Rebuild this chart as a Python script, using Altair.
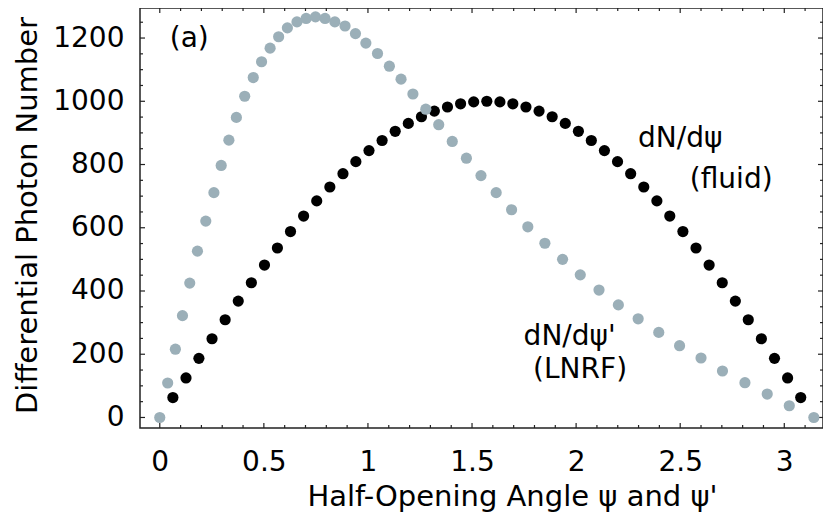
import altair as alt
import pandas as pd

# ---- data ----
fluid_x = [0.063, 0.126, 0.188, 0.251, 0.314, 0.377, 0.440, 0.503, 0.565, 0.628,
           0.691, 0.754, 0.817, 0.880, 0.942, 1.005, 1.068, 1.131, 1.194, 1.257,
           1.319, 1.382, 1.445, 1.508, 1.571, 1.634, 1.696, 1.759, 1.822, 1.885,
           1.948, 2.011, 2.073, 2.136, 2.199, 2.262, 2.325, 2.388, 2.450, 2.513,
           2.576, 2.639, 2.702, 2.765, 2.827, 2.890, 2.953, 3.016, 3.079]
fluid_y = [63, 125, 187, 249, 309, 368, 426, 482, 536, 588,
           637, 685, 729, 771, 809, 844, 876, 905, 930, 951,
           969, 982, 992, 998, 1000, 998, 992, 982, 969, 951,
           930, 905, 876, 844, 809, 771, 729, 685, 637, 588,
           536, 482, 426, 368, 309, 249, 187, 125, 63]

lnrf_x = [0.000, 0.038, 0.075, 0.109, 0.144, 0.181, 0.221, 0.260, 0.295, 0.332,
          0.368, 0.408, 0.449, 0.489, 0.530, 0.571, 0.613, 0.659, 0.703, 0.748,
          0.794, 0.841, 0.890, 0.940, 0.990, 1.046, 1.103, 1.159, 1.216, 1.278,
          1.340, 1.405, 1.473, 1.543, 1.616, 1.690, 1.768, 1.850, 1.935, 2.020,
          2.110, 2.203, 2.298, 2.397, 2.497, 2.600, 2.703, 2.811, 2.918, 3.024,
          3.142]
lnrf_y = [0, 109, 216, 322, 425, 526, 621, 711, 797, 877,
          949, 1016, 1075, 1125, 1168, 1204, 1232, 1251, 1262, 1267,
          1262, 1251, 1238, 1214, 1184, 1151, 1111, 1070, 1023, 975,
          926, 873, 820, 765, 711, 657, 603, 551, 500, 451,
          403, 356, 312, 269, 227, 188, 147, 110, 74, 37,
          0]

x_major = [0, 0.5, 1, 1.5, 2, 2.5, 3]
x_minor = [v / 10 for v in range(0, 32) if v % 5 != 0]
y_major = [0, 200, 400, 600, 800, 1000, 1200]
y_minor = [v for v in range(0, 1300, 50) if v % 200 != 0]

panel_text = ["(a)"]
panel_x = [0.048]
panel_y = [1173]

ann_text = ["dN/dψ", "(fluid)", "dN/dψ'", "(LNRF)"]
ann_x = [2.50, 2.745, 1.969, 2.019]
ann_y = [856, 726, 229, 125]

# ---- layout ----
W, H = 683, 420
FONT = "DejaVu Sans"
FRAME = "#222222"
GRAY = "#9BAFB8"

xscale = alt.Scale(domain=[-0.095, 3.186], nice=False, zero=False)
yscale = alt.Scale(domain=[-33.3, 1295], nice=False, zero=False)

fluid_df = pd.DataFrame({"x": fluid_x, "y": fluid_y})
lnrf_df = pd.DataFrame({"x": lnrf_x, "y": lnrf_y})
panel_df = pd.DataFrame({"x": panel_x, "y": panel_y, "t": panel_text})
ann_df = pd.DataFrame({"x": ann_x, "y": ann_y, "t": ann_text})

xaxis = alt.Axis(values=x_major, format="~g", ticks=False, tickSize=0, domain=False,
                 grid=False, labelFont=FONT, labelFontSize=28, labelColor="black",
                 labelPadding=20, labelFlush=False, labelOverlap=False,
                 title="Half-Opening Angle ψ and ψ'", titleFont=FONT, titleFontSize=29,
                 titleFontWeight="normal", titleColor="black", titleX=372, titleY=77,
                 titleBaseline="alphabetic", titleAlign="center")
yaxis = alt.Axis(values=y_major, format="d", ticks=False, tickSize=0, domain=False,
                 grid=False, labelFont=FONT, labelFontSize=28, labelColor="black",
                 labelPadding=16, labelFlush=False, labelOverlap=False,
                 labelAlign="right", labelBaseline="middle",
                 title="Differential Photon Number", titleFont=FONT, titleFontSize=29,
                 titleFontWeight="normal", titleColor="black", titleAngle=270,
                 titleX=-104, titleY=207, titleBaseline="alphabetic", titleAlign="center")

X = lambda f: alt.X(f, scale=xscale, axis=xaxis)
Y = lambda f: alt.Y(f, scale=yscale, axis=yaxis)


def tick_layer(vals, side, length):
    df = pd.DataFrame({"v": vals})
    base = alt.Chart(df).mark_rule(color=FRAME, strokeWidth=1.2)
    if side == "bottom":
        return base.encode(x=X("v:Q"), y=alt.value(H), y2=alt.value(H - length))
    if side == "top":
        return base.encode(x=X("v:Q"), y=alt.value(0), y2=alt.value(length))
    if side == "left":
        return base.encode(y=Y("v:Q"), x=alt.value(0), x2=alt.value(length))
    return base.encode(y=Y("v:Q"), x=alt.value(W), x2=alt.value(W - length))


ticks = []
for side in ["bottom", "top"]:
    ticks.append(tick_layer(x_major, side, 5))
    ticks.append(tick_layer(x_minor, side, 3))
for side in ["left", "right"]:
    ticks.append(tick_layer(y_major, side, 5))
    ticks.append(tick_layer(y_minor, side, 3))

fluid = alt.Chart(fluid_df).mark_circle(size=125, color="black", opacity=1).encode(
    x=X("x:Q"), y=Y("y:Q"))
lnrf = alt.Chart(lnrf_df).mark_circle(size=125, color=GRAY, opacity=1).encode(
    x=X("x:Q"), y=Y("y:Q"))

panel = alt.Chart(panel_df).mark_text(font=FONT, fontSize=28, color="black",
                                      baseline="alphabetic", align="left").encode(
    x=X("x:Q"), y=Y("y:Q"), text="t:N")
text = alt.Chart(ann_df).mark_text(font=FONT, fontSize=28, color="black",
                                   baseline="alphabetic", align="center").encode(
    x=X("x:Q"), y=Y("y:Q"), text="t:N")

chart = alt.layer(*ticks, fluid, lnrf, panel, text).properties(
    width=W, height=H,
    background="white",
    autosize=alt.AutoSizeParams(type="none"),
    padding={"left": 132, "top": 0, "right": 0, "bottom": 88},
).configure_view(stroke=FRAME, strokeWidth=1.5)

chart.save("out.html", embed_options={"renderer": "svg", "actions": False})
